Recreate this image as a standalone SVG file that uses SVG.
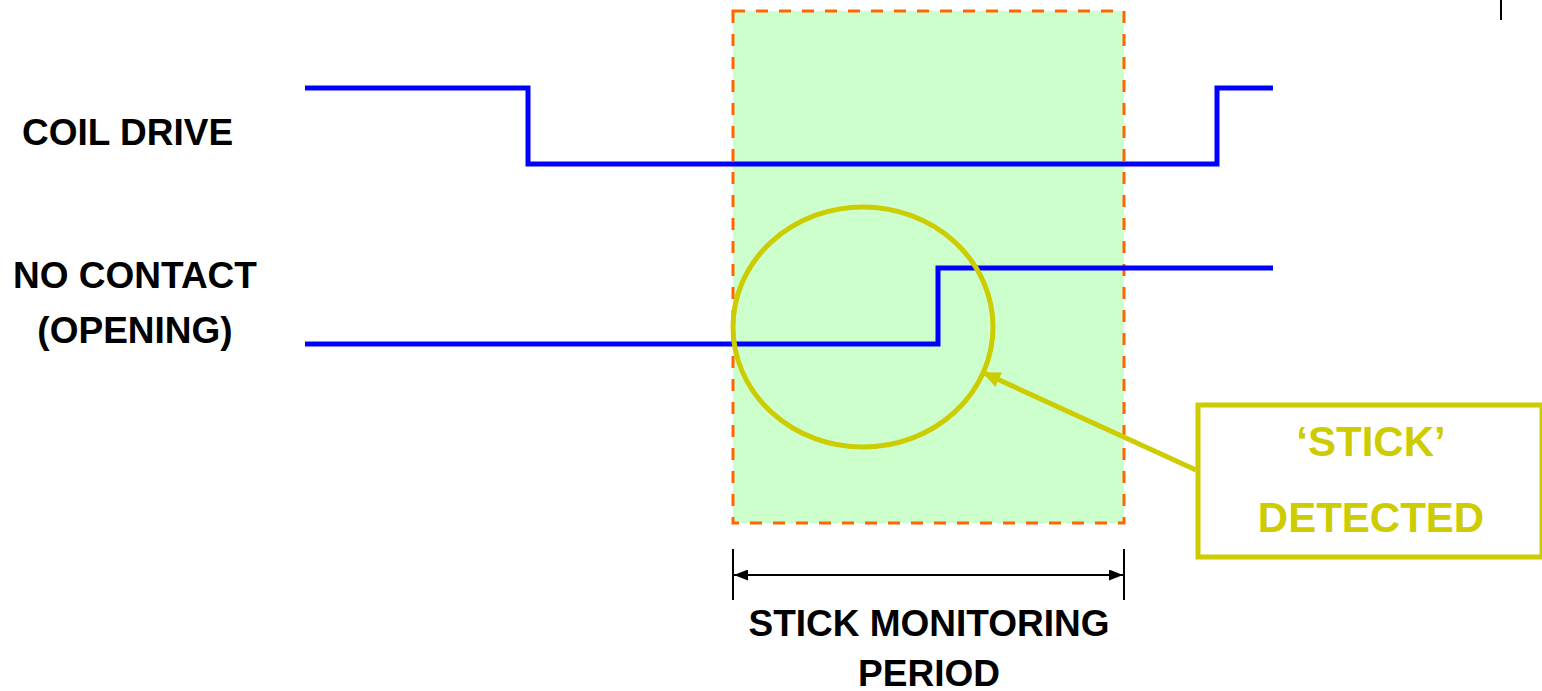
<svg xmlns="http://www.w3.org/2000/svg" width="1542" height="691" viewBox="0 0 1542 691">
<style>
.sig{fill:none;stroke:#0000FF;stroke-width:5;stroke-linejoin:miter}
.lbl{font-family:"Liberation Sans",Arial,sans-serif;font-weight:bold;font-size:37px;fill:#000}
.ylbl{font-family:"Liberation Sans",Arial,sans-serif;font-weight:bold;font-size:42px;fill:#CCCC00;text-anchor:middle}
.dim{stroke:#000;stroke-width:2;fill:none}
</style>
<defs>
<marker id="blk" viewBox="0 0 10 10" refX="10" refY="5" markerWidth="14" markerHeight="11" markerUnits="userSpaceOnUse" orient="auto-start-reverse" preserveAspectRatio="none">
<path d="M0,0 L10,5 L0,10 z" fill="#000"/>
</marker>
<marker id="yel" viewBox="0 0 10 10" refX="9" refY="5" markerWidth="18" markerHeight="16" markerUnits="userSpaceOnUse" orient="auto" preserveAspectRatio="none">
<path d="M0,0 L10,5 L0,10 z" fill="#CCCC00"/>
</marker>
</defs>
<g id="period">
<rect x="733" y="11" width="391" height="512" fill="#CCFFCC" stroke="#FF6600" stroke-width="3" stroke-dasharray="12 11"/>
</g>
<g id="labels">
<text class="lbl" x="22" y="145">COIL DRIVE</text>
<text class="lbl" x="135" y="288" text-anchor="middle">NO CONTACT</text>
<text class="lbl" x="135" y="343" text-anchor="middle">(OPENING)</text>
</g>
<g id="coil-drive">
<path class="sig" d="M305,88 H528 V164 H1217 V88 H1273"/>
</g>
<g id="no-contact">
<path class="sig" d="M305,344 H938 V268 H1273"/>
</g>
<g id="stick-circle">
<ellipse cx="863" cy="327" rx="130" ry="120" fill="none" stroke="#CCCC00" stroke-width="5"/>
</g>
<g id="stick-box">
<rect x="1198" y="405" width="344" height="152" fill="#fff" stroke="#CCCC00" stroke-width="5"/>
<text class="ylbl" x="1371" y="456">‘STICK’</text>
<text class="ylbl" x="1371" y="532">DETECTED</text>
</g>
<g id="connectors">
<line x1="1196" y1="470" x2="984" y2="373" stroke="#CCCC00" stroke-width="5" marker-end="url(#yel)"/>
<line class="dim" x1="733" y1="549" x2="733" y2="600"/>
<line class="dim" x1="1124" y1="549" x2="1124" y2="600"/>
<line class="dim" x1="734" y1="575" x2="1123" y2="575" marker-start="url(#blk)" marker-end="url(#blk)"/>
<line x1="1501" y1="0" x2="1501" y2="20" stroke="#000" stroke-width="2"/>
</g>
<g id="period-label">
<text class="lbl" x="929" y="636" text-anchor="middle">STICK MONITORING</text>
<text class="lbl" x="929" y="686" text-anchor="middle">PERIOD</text>
</g>
</svg>
